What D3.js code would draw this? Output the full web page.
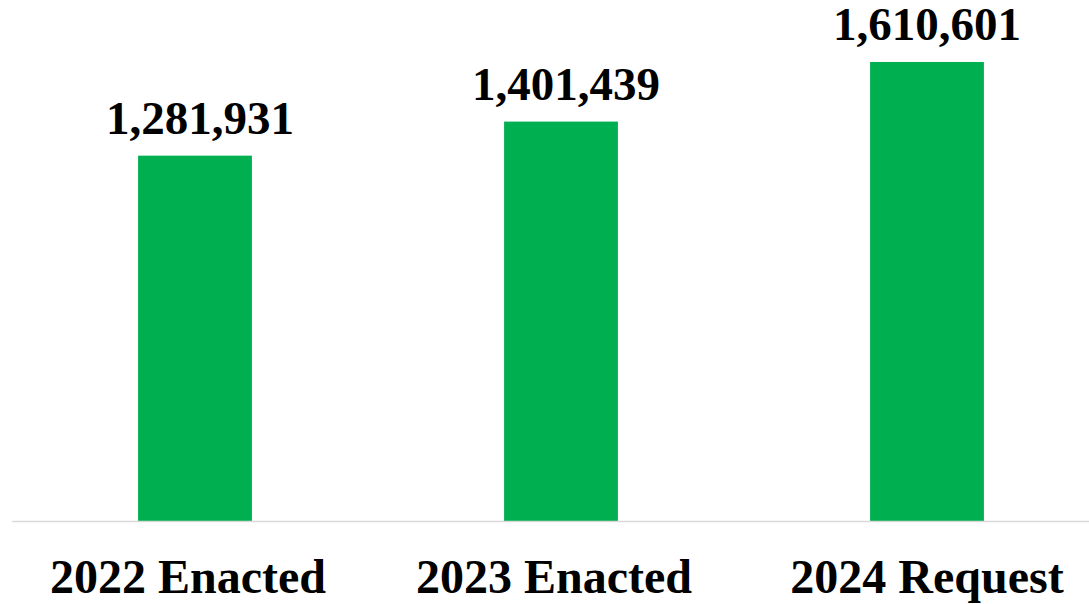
<!DOCTYPE html>
<html>
<head>
<meta charset="utf-8">
<script src="https://cdn.jsdelivr.net/npm/d3@7"></script>
<style>
  body { margin: 0; background: #fff; }
</style>
</head>
<body>
<script>
var categories = ["2022 Enacted", "2023 Enacted", "2024 Request"];
var values = [1281931, 1401439, 1610601];

var width = 1089,
    height = 604;

var svg = d3.select("body").append("svg")
    .attr("width", width)
    .attr("height", height);

var data = categories.map(function (c, i) {
    return { name: c, value: values[i] };
});

// plot area runs a bit past the right edge, as in the original
var x = d3.scaleBand()
    .domain(categories)
    .range([12, 1110])
    .paddingInner(0.689)
    .paddingOuter(0.3445);

var y = d3.scaleLinear()
    .domain([0, 1800000])
    .range([521, 8]);

var last = categories.length - 1;

svg.selectAll("rect.bar")
    .data(data)
    .enter().append("rect")
    .attr("class", "bar")
    .attr("x", function (d) { return x(d.name); })
    .attr("y", function (d) { return y(d.value); })
    .attr("width", x.bandwidth())
    .attr("height", function (d) { return y(0) - y(d.value); })
    .attr("fill", "#00B050");

// baseline
svg.append("line")
    .attr("x1", 12)
    .attr("x2", width)
    .attr("y1", y(0) + 0.5)
    .attr("y2", y(0) + 0.5)
    .attr("stroke", "#D9D9D9")
    .attr("stroke-width", 1.5);

// value labels
svg.selectAll("text.value")
    .data(data)
    .enter().append("text")
    .attr("class", "value")
    .attr("x", function (d) { return x(d.name) + x.bandwidth() / 2; })
    .attr("y", function (d) { return y(d.value) - 22; })
    .attr("dx", function (d, i) { return i < last ? 5 : 0; })
    .attr("text-anchor", "middle")
    .attr("font-family", "'Liberation Serif', 'Times New Roman', serif")
    .attr("font-weight", "bold")
    .attr("font-size", "47px")
    .attr("fill", "#000")
    .text(function (d) { return d3.format(",")(d.value); });

// category labels (the last one sits squeezed against the edge)
svg.selectAll("text.cat")
    .data(data)
    .enter().append("text")
    .attr("class", "cat")
    .attr("x", function (d) { return x(d.name) + x.bandwidth() / 2; })
    .attr("y", 593)
    .attr("dx", function (d, i) { return i < last ? -7 : 0; })
    .attr("text-anchor", "middle")
    .attr("font-family", "'Liberation Serif', 'Times New Roman', serif")
    .attr("font-weight", "bold")
    .attr("font-size", "48px")
    .attr("fill", "#000")
    .text(function (d) { return d.name; });
</script>
</body>
</html>
